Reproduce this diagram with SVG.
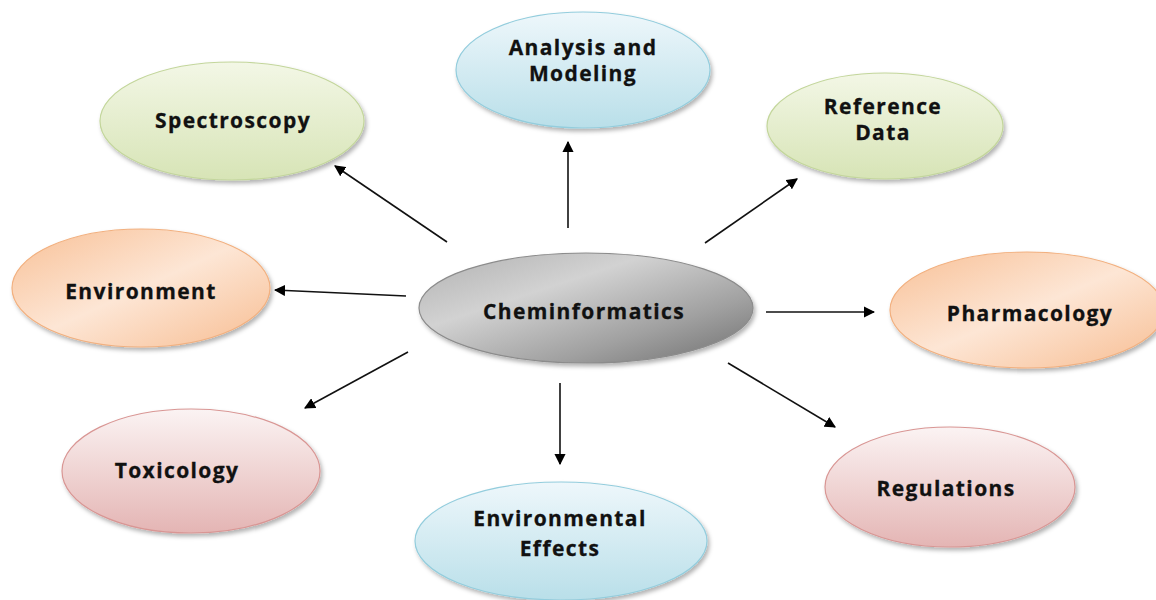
<svg xmlns="http://www.w3.org/2000/svg" width="1156" height="600" viewBox="0 0 1156 600">
<defs>
<linearGradient id="gGreen" x1="0" y1="0" x2="0" y2="1"><stop offset="0" stop-color="#f3f7e6"/><stop offset="1" stop-color="#d7e4b6"/></linearGradient>
<linearGradient id="gBlue" x1="0" y1="0" x2="0" y2="1"><stop offset="0" stop-color="#eef7fb"/><stop offset="1" stop-color="#b9dfe9"/></linearGradient>
<linearGradient id="gPink" x1="0" y1="0" x2="0" y2="1"><stop offset="0" stop-color="#fbf3f3"/><stop offset="1" stop-color="#e4b5b4"/></linearGradient>
<linearGradient id="gOrange" x1="0" y1="0" x2="1" y2="1"><stop offset="0" stop-color="#f8c096"/><stop offset="0.5" stop-color="#fde6d5"/><stop offset="1" stop-color="#f7bd92"/></linearGradient>
<linearGradient id="gGray" x1="0" y1="0" x2="1" y2="1"><stop offset="0" stop-color="#b0b0b0"/><stop offset="0.35" stop-color="#d2d2d2"/><stop offset="0.7" stop-color="#a0a0a0"/><stop offset="1" stop-color="#6e6e6e"/></linearGradient>
<filter id="sh" x="-10%" y="-10%" width="125%" height="130%"><feDropShadow dx="2" dy="3" stdDeviation="2" flood-color="#000" flood-opacity="0.3"/></filter>
<marker id="ah" viewBox="0 0 10 10" refX="9" refY="5" markerWidth="7" markerHeight="7" orient="auto"><path d="M0,0 L10,5 L0,10 z" fill="#000"/></marker>
<style>
.t{font-family:"Open Sans","Liberation Sans",sans-serif;font-weight:bold;font-size:21px;letter-spacing:1.4px;fill:#111;stroke:#111;stroke-width:0.3;text-anchor:middle}
.c{stroke:#111;stroke-width:1.6;fill:none;marker-end:url(#ah)}
.green{fill:url(#gGreen);stroke:#c3d69b;stroke-width:1.2}
.blue{fill:url(#gBlue);stroke:#93cddd;stroke-width:1.2}
.pink{fill:url(#gPink);stroke:#d99694;stroke-width:1.2}
.orange{fill:url(#gOrange);stroke:#f2b07f;stroke-width:1.2}
.gray{fill:url(#gGray);stroke:#8c8c8c;stroke-width:1.2}
</style>
</defs>
<g id="connectors">
<line class="c" x1="568" y1="228" x2="568" y2="142"/>
<line class="c" x1="447" y1="242" x2="335" y2="166"/>
<line class="c" x1="705" y1="243" x2="797" y2="179"/>
<line class="c" x1="406" y1="296" x2="275" y2="290"/>
<line class="c" x1="766" y1="312" x2="874" y2="312"/>
<line class="c" x1="408" y1="352" x2="305" y2="408"/>
<line class="c" x1="560" y1="383" x2="560" y2="464"/>
<line class="c" x1="728" y1="363" x2="835" y2="427"/>
</g>
<g id="analysis"><ellipse class="blue" filter="url(#sh)" cx="583" cy="70" rx="127" ry="58"/><text class="t" x="583" y="55">Analysis and</text><text class="t" x="583" y="81">Modeling</text></g>
<g id="spectroscopy"><ellipse class="green" filter="url(#sh)" cx="232" cy="121" rx="132" ry="59"/><text class="t" x="233" y="128">Spectroscopy</text></g>
<g id="reference"><ellipse class="green" filter="url(#sh)" cx="885" cy="126" rx="118" ry="53"/><text class="t" x="883" y="114">Reference</text><text class="t" x="883" y="140">Data</text></g>
<g id="environment"><ellipse class="orange" filter="url(#sh)" cx="141" cy="288" rx="129" ry="59"/><text class="t" x="141" y="299">Environment</text></g>
<g id="cheminformatics"><ellipse class="gray" filter="url(#sh)" cx="586" cy="308" rx="167" ry="55"/><text class="t" x="584" y="319">Cheminformatics</text></g>
<g id="pharmacology"><ellipse class="orange" filter="url(#sh)" cx="1027" cy="310" rx="137" ry="58"/><text class="t" x="1030" y="321">Pharmacology</text></g>
<g id="toxicology"><ellipse class="pink" filter="url(#sh)" cx="191" cy="471" rx="129" ry="62"/><text class="t" x="177" y="478">Toxicology</text></g>
<g id="effects"><ellipse class="blue" filter="url(#sh)" cx="561" cy="541" rx="146" ry="59"/><text class="t" x="560" y="526">Environmental</text><text class="t" x="560" y="556">Effects</text></g>
<g id="regulations"><ellipse class="pink" filter="url(#sh)" cx="950" cy="487" rx="125" ry="60"/><text class="t" x="946" y="496">Regulations</text></g>
</svg>
